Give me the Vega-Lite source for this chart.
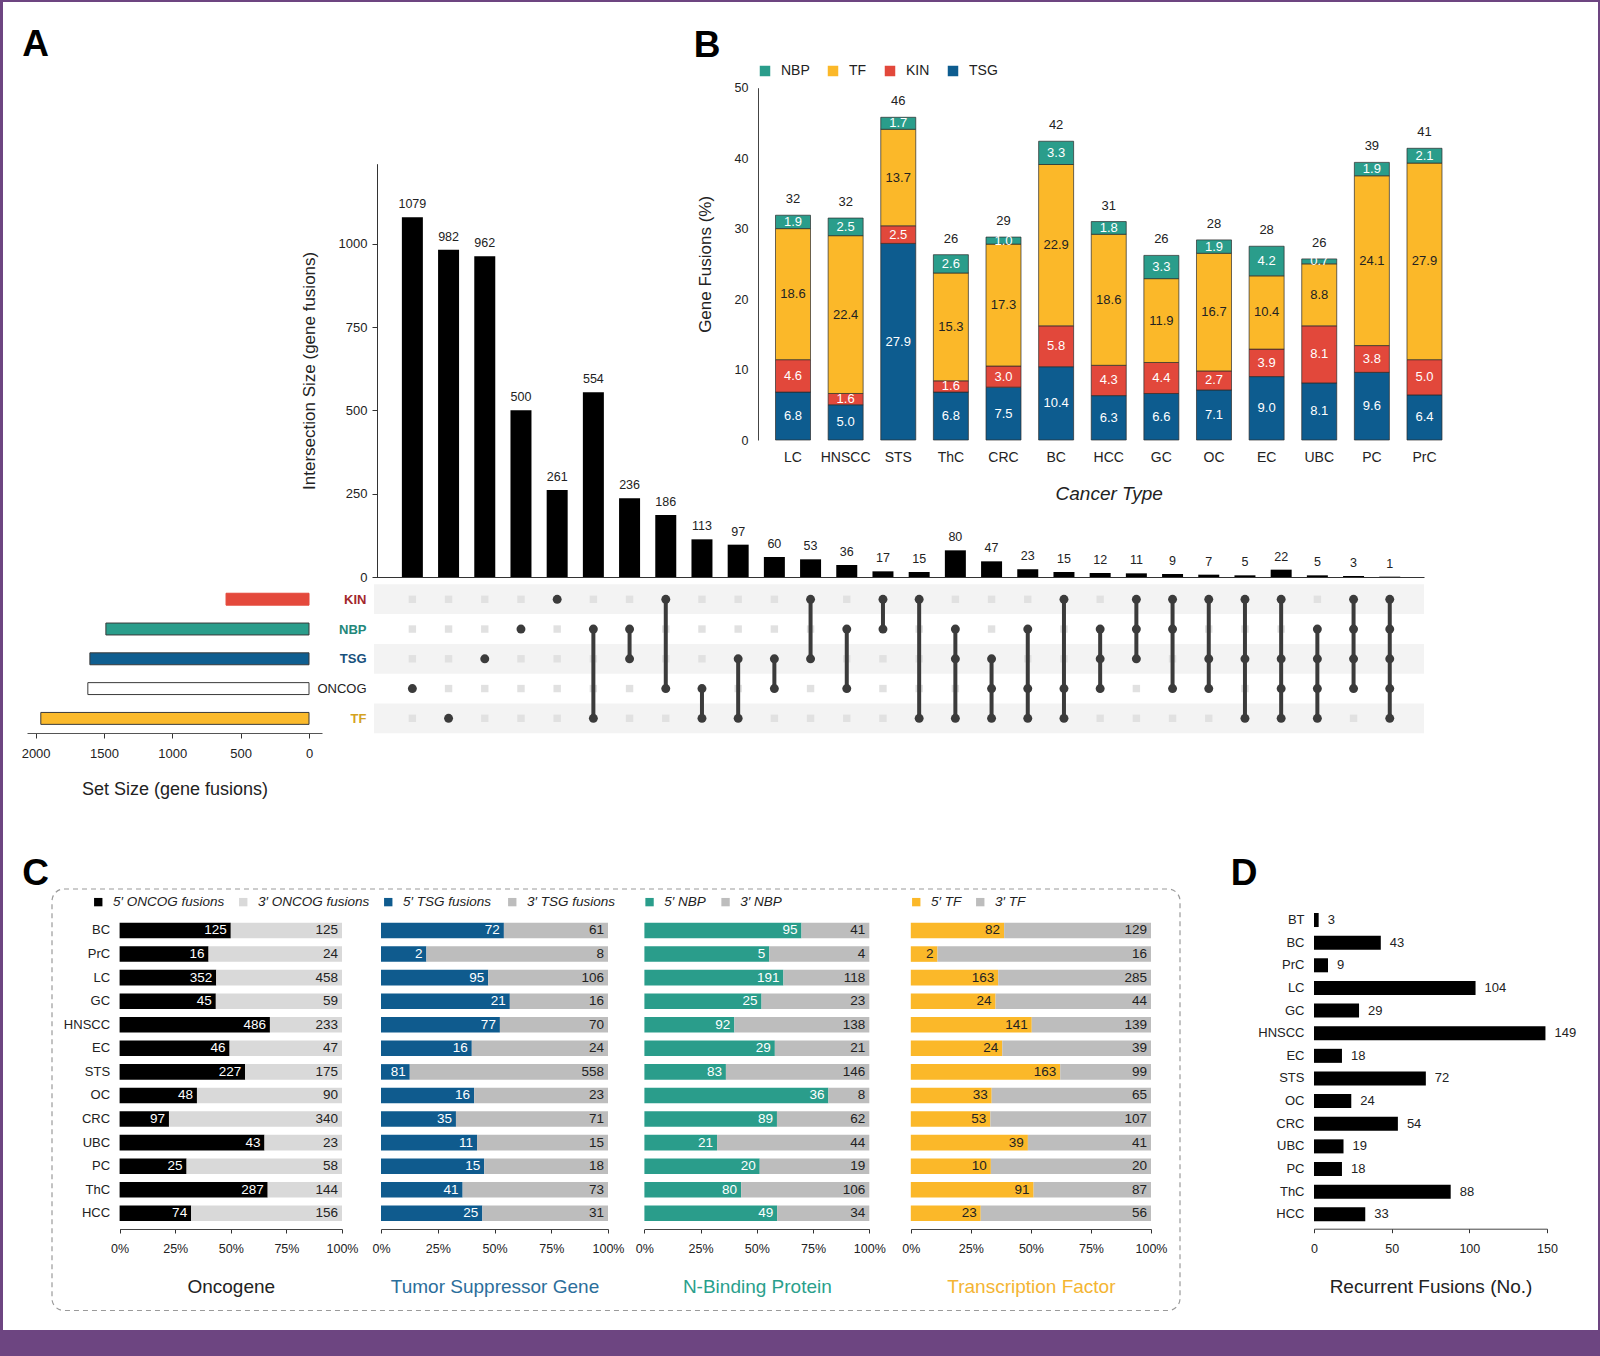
{
  "$schema": "https://vega.github.io/schema/vega-lite/v6.json",
  "width": 1595,
  "height": 1328,
  "autosize": {"type": "none"},
  "padding": {"left": 3, "top": 2, "right": 2, "bottom": 26},
  "background": "#6d4581",
  "config": {
    "view": {"stroke": null, "fill": "#ffffff"},
    "font": "Liberation Sans",
    "axis": {"grid": false, "labelFont": "Liberation Sans", "titleFont": "Liberation Sans", "labelColor": "#222222", "titleColor": "#222222", "domainColor": "#333333", "tickColor": "#333333", "titleFontWeight": "normal", "labelFontSize": 12, "labelFlush": false, "labelOverlap": false},
    "legend": {"labelFont": "Liberation Sans", "labelColor": "#222222"}
  },
  "datasets": {
    "inter": [
      {"id": 1, "size": 1079, "KIN": 0, "NBP": 0, "TSG": 0, "ONCOG": 1, "TF": 0},
      {"id": 2, "size": 982, "KIN": 0, "NBP": 0, "TSG": 0, "ONCOG": 0, "TF": 1},
      {"id": 3, "size": 962, "KIN": 0, "NBP": 0, "TSG": 1, "ONCOG": 0, "TF": 0},
      {"id": 4, "size": 500, "KIN": 0, "NBP": 1, "TSG": 0, "ONCOG": 0, "TF": 0},
      {"id": 5, "size": 261, "KIN": 1, "NBP": 0, "TSG": 0, "ONCOG": 0, "TF": 0},
      {"id": 6, "size": 554, "KIN": 0, "NBP": 1, "TSG": 0, "ONCOG": 0, "TF": 1, "top": "NBP", "bot": "TF"},
      {"id": 7, "size": 236, "KIN": 0, "NBP": 1, "TSG": 1, "ONCOG": 0, "TF": 0, "top": "NBP", "bot": "TSG"},
      {"id": 8, "size": 186, "KIN": 1, "NBP": 0, "TSG": 0, "ONCOG": 1, "TF": 0, "top": "KIN", "bot": "ONCOG"},
      {"id": 9, "size": 113, "KIN": 0, "NBP": 0, "TSG": 0, "ONCOG": 1, "TF": 1, "top": "ONCOG", "bot": "TF"},
      {"id": 10, "size": 97, "KIN": 0, "NBP": 0, "TSG": 1, "ONCOG": 0, "TF": 1, "top": "TSG", "bot": "TF"},
      {"id": 11, "size": 60, "KIN": 0, "NBP": 0, "TSG": 1, "ONCOG": 1, "TF": 0, "top": "TSG", "bot": "ONCOG"},
      {"id": 12, "size": 53, "KIN": 1, "NBP": 0, "TSG": 1, "ONCOG": 0, "TF": 0, "top": "KIN", "bot": "TSG"},
      {"id": 13, "size": 36, "KIN": 0, "NBP": 1, "TSG": 0, "ONCOG": 1, "TF": 0, "top": "NBP", "bot": "ONCOG"},
      {"id": 14, "size": 17, "KIN": 1, "NBP": 1, "TSG": 0, "ONCOG": 0, "TF": 0, "top": "KIN", "bot": "NBP"},
      {"id": 15, "size": 15, "KIN": 1, "NBP": 0, "TSG": 0, "ONCOG": 0, "TF": 1, "top": "KIN", "bot": "TF"},
      {"id": 16, "size": 80, "KIN": 0, "NBP": 1, "TSG": 1, "ONCOG": 0, "TF": 1, "top": "NBP", "bot": "TF"},
      {"id": 17, "size": 47, "KIN": 0, "NBP": 0, "TSG": 1, "ONCOG": 1, "TF": 1, "top": "TSG", "bot": "TF"},
      {"id": 18, "size": 23, "KIN": 0, "NBP": 1, "TSG": 0, "ONCOG": 1, "TF": 1, "top": "NBP", "bot": "TF"},
      {"id": 19, "size": 15, "KIN": 1, "NBP": 0, "TSG": 0, "ONCOG": 1, "TF": 1, "top": "KIN", "bot": "TF"},
      {"id": 20, "size": 12, "KIN": 0, "NBP": 1, "TSG": 1, "ONCOG": 1, "TF": 0, "top": "NBP", "bot": "ONCOG"},
      {"id": 21, "size": 11, "KIN": 1, "NBP": 1, "TSG": 1, "ONCOG": 0, "TF": 0, "top": "KIN", "bot": "TSG"},
      {"id": 22, "size": 9, "KIN": 1, "NBP": 1, "TSG": 0, "ONCOG": 1, "TF": 0, "top": "KIN", "bot": "ONCOG"},
      {"id": 23, "size": 7, "KIN": 1, "NBP": 0, "TSG": 1, "ONCOG": 1, "TF": 0, "top": "KIN", "bot": "ONCOG"},
      {"id": 24, "size": 5, "KIN": 1, "NBP": 0, "TSG": 1, "ONCOG": 0, "TF": 1, "top": "KIN", "bot": "TF"},
      {"id": 25, "size": 22, "KIN": 1, "NBP": 0, "TSG": 1, "ONCOG": 1, "TF": 1, "top": "KIN", "bot": "TF"},
      {"id": 26, "size": 5, "KIN": 0, "NBP": 1, "TSG": 1, "ONCOG": 1, "TF": 1, "top": "NBP", "bot": "TF"},
      {"id": 27, "size": 3, "KIN": 1, "NBP": 1, "TSG": 1, "ONCOG": 1, "TF": 0, "top": "KIN", "bot": "ONCOG"},
      {"id": 28, "size": 1, "KIN": 1, "NBP": 1, "TSG": 1, "ONCOG": 1, "TF": 1, "top": "KIN", "bot": "TF"}
    ],
    "sets": [
      {"set": "KIN", "size": 607},
      {"set": "NBP", "size": 1486},
      {"set": "TSG", "size": 1603},
      {"set": "ONCOG", "size": 1618},
      {"set": "TF", "size": 1962}
    ],
    "bdata": [
      {"c": "LC", "TSG": 6.8, "KIN": 4.6, "TF": 18.6, "NBP": 1.9, "total": 32},
      {"c": "HNSCC", "TSG": 5.0, "KIN": 1.6, "TF": 22.4, "NBP": 2.5, "total": 32},
      {"c": "STS", "TSG": 27.9, "KIN": 2.5, "TF": 13.7, "NBP": 1.7, "total": 46},
      {"c": "ThC", "TSG": 6.8, "KIN": 1.6, "TF": 15.3, "NBP": 2.6, "total": 26},
      {"c": "CRC", "TSG": 7.5, "KIN": 3.0, "TF": 17.3, "NBP": 1.0, "total": 29},
      {"c": "BC", "TSG": 10.4, "KIN": 5.8, "TF": 22.9, "NBP": 3.3, "total": 42},
      {"c": "HCC", "TSG": 6.3, "KIN": 4.3, "TF": 18.6, "NBP": 1.8, "total": 31},
      {"c": "GC", "TSG": 6.6, "KIN": 4.4, "TF": 11.9, "NBP": 3.3, "total": 26},
      {"c": "OC", "TSG": 7.1, "KIN": 2.7, "TF": 16.7, "NBP": 1.9, "total": 28},
      {"c": "EC", "TSG": 9.0, "KIN": 3.9, "TF": 10.4, "NBP": 4.2, "total": 28},
      {"c": "UBC", "TSG": 8.1, "KIN": 8.1, "TF": 8.8, "NBP": 0.7, "total": 26},
      {"c": "PC", "TSG": 9.6, "KIN": 3.8, "TF": 24.1, "NBP": 1.9, "total": 39},
      {"c": "PrC", "TSG": 6.4, "KIN": 5.0, "TF": 27.9, "NBP": 2.1, "total": 41}
    ],
    "btypes": [
      {"type": "TSG", "rank": 1},
      {"type": "KIN", "rank": 2},
      {"type": "TF", "rank": 3},
      {"type": "NBP", "rank": 4}
    ],
    "cdata": [
      {"c": "BC", "g": "ONCOG", "five": 125, "three": 125},
      {"c": "PrC", "g": "ONCOG", "five": 16, "three": 24},
      {"c": "LC", "g": "ONCOG", "five": 352, "three": 458},
      {"c": "GC", "g": "ONCOG", "five": 45, "three": 59},
      {"c": "HNSCC", "g": "ONCOG", "five": 486, "three": 233},
      {"c": "EC", "g": "ONCOG", "five": 46, "three": 47},
      {"c": "STS", "g": "ONCOG", "five": 227, "three": 175},
      {"c": "OC", "g": "ONCOG", "five": 48, "three": 90},
      {"c": "CRC", "g": "ONCOG", "five": 97, "three": 340},
      {"c": "UBC", "g": "ONCOG", "five": 43, "three": 23},
      {"c": "PC", "g": "ONCOG", "five": 25, "three": 58},
      {"c": "ThC", "g": "ONCOG", "five": 287, "three": 144},
      {"c": "HCC", "g": "ONCOG", "five": 74, "three": 156},
      {"c": "BC", "g": "TSG", "five": 72, "three": 61},
      {"c": "PrC", "g": "TSG", "five": 2, "three": 8},
      {"c": "LC", "g": "TSG", "five": 95, "three": 106},
      {"c": "GC", "g": "TSG", "five": 21, "three": 16},
      {"c": "HNSCC", "g": "TSG", "five": 77, "three": 70},
      {"c": "EC", "g": "TSG", "five": 16, "three": 24},
      {"c": "STS", "g": "TSG", "five": 81, "three": 558},
      {"c": "OC", "g": "TSG", "five": 16, "three": 23},
      {"c": "CRC", "g": "TSG", "five": 35, "three": 71},
      {"c": "UBC", "g": "TSG", "five": 11, "three": 15},
      {"c": "PC", "g": "TSG", "five": 15, "three": 18},
      {"c": "ThC", "g": "TSG", "five": 41, "three": 73},
      {"c": "HCC", "g": "TSG", "five": 25, "three": 31},
      {"c": "BC", "g": "NBP", "five": 95, "three": 41},
      {"c": "PrC", "g": "NBP", "five": 5, "three": 4},
      {"c": "LC", "g": "NBP", "five": 191, "three": 118},
      {"c": "GC", "g": "NBP", "five": 25, "three": 23},
      {"c": "HNSCC", "g": "NBP", "five": 92, "three": 138},
      {"c": "EC", "g": "NBP", "five": 29, "three": 21},
      {"c": "STS", "g": "NBP", "five": 83, "three": 146},
      {"c": "OC", "g": "NBP", "five": 36, "three": 8},
      {"c": "CRC", "g": "NBP", "five": 89, "three": 62},
      {"c": "UBC", "g": "NBP", "five": 21, "three": 44},
      {"c": "PC", "g": "NBP", "five": 20, "three": 19},
      {"c": "ThC", "g": "NBP", "five": 80, "three": 106},
      {"c": "HCC", "g": "NBP", "five": 49, "three": 34},
      {"c": "BC", "g": "TF", "five": 82, "three": 129},
      {"c": "PrC", "g": "TF", "five": 2, "three": 16},
      {"c": "LC", "g": "TF", "five": 163, "three": 285},
      {"c": "GC", "g": "TF", "five": 24, "three": 44},
      {"c": "HNSCC", "g": "TF", "five": 141, "three": 139},
      {"c": "EC", "g": "TF", "five": 24, "three": 39},
      {"c": "STS", "g": "TF", "five": 163, "three": 99},
      {"c": "OC", "g": "TF", "five": 33, "three": 65},
      {"c": "CRC", "g": "TF", "five": 53, "three": 107},
      {"c": "UBC", "g": "TF", "five": 39, "three": 41},
      {"c": "PC", "g": "TF", "five": 10, "three": 20},
      {"c": "ThC", "g": "TF", "five": 91, "three": 87},
      {"c": "HCC", "g": "TF", "five": 23, "three": 56}
    ],
    "ddata": [
      {"c": "BT", "n": 3},
      {"c": "BC", "n": 43},
      {"c": "PrC", "n": 9},
      {"c": "LC", "n": 104},
      {"c": "GC", "n": 29},
      {"c": "HNSCC", "n": 149},
      {"c": "EC", "n": 18},
      {"c": "STS", "n": 72},
      {"c": "OC", "n": 24},
      {"c": "CRC", "n": 54},
      {"c": "UBC", "n": 19},
      {"c": "PC", "n": 18},
      {"c": "ThC", "n": 88},
      {"c": "HCC", "n": 33}
    ],
    "frame": [{"panel": "C"}]
  },
  "resolve": {
    "scale": {"x": "independent", "y": "independent", "color": "independent"},
    "axis": {"x": "independent", "y": "independent"},
    "legend": {"color": "independent"}
  },
  "layer": [
    {
      "data": {"name": "sets"},
      "transform": [{"filter": {"field": "set", "oneOf": ["KIN", "TSG", "TF"]}}],
      "mark": {"type": "rect", "color": "#f3f3f3"},
      "encoding": {
        "x": {"datum": 0, "type": "quantitative",
          "scale": {"domain": [0, 1], "range": [371, 1421], "nice": false, "zero": false},
          "axis": {"orient": "top", "offset": 0, "domain": false, "ticks": false, "labels": false, "title": "A", "titleX": 32, "titleY": 53, "titleAlign": "center", "titleBaseline": "alphabetic", "titleAngle": 0, "titleFontSize": 37, "titleFontWeight": "bold", "titleColor": "#000000"}},
        "x2": {"datum": 1},
        "y": {"field": "set", "type": "nominal",
          "scale": {"domain": ["KIN", "NBP", "TSG", "ONCOG", "TF"], "range": [582.3, 731.3], "paddingInner": 0, "paddingOuter": 0},
          "axis": {"orient": "left", "offset": 0, "domain": false, "ticks": false, "labels": false, "title": "B", "titleX": 703.5, "titleY": 54, "titleAlign": "center", "titleBaseline": "alphabetic", "titleAngle": 0, "titleFontSize": 37, "titleFontWeight": "bold", "titleColor": "#000000"}}
      }
    },
    {
      "data": {"name": "inter"},
      "encoding": {
        "x": {"field": "id", "type": "ordinal",
          "scale": {"range": [371, 1421], "paddingInner": 0.42, "paddingOuter": 0.713, "align": 0.54, "round": false},
          "axis": null}
      },
      "layer": [
        {
          "transform": [{"fold": ["KIN", "NBP", "TSG", "ONCOG", "TF"], "as": ["set", "member"]}, {"filter": "datum.member == 0"}],
          "mark": {"type": "point", "shape": "square", "filled": true, "size": 55, "color": "#e1e1e1", "opacity": 1},
          "encoding": {
            "y": {"field": "set", "type": "nominal",
              "scale": {"type": "point", "domain": ["KIN", "NBP", "TSG", "ONCOG", "TF"], "range": [597.3, 716.3], "padding": 0},
              "axis": {"orient": "left", "offset": -371, "domain": false, "ticks": false, "tickSize": 0, "labelPadding": 8, "labelFontSize": 13, "title": null,
                "labelFontWeight": {"condition": {"test": "datum.value == 'ONCOG'", "value": "normal"}, "value": "bold"},
                "labelColor": {"condition": [{"test": "datum.value == 'KIN'", "value": "#a3282c"}, {"test": "datum.value == 'NBP'", "value": "#23877a"}, {"test": "datum.value == 'TSG'", "value": "#17507c"}, {"test": "datum.value == 'TF'", "value": "#d4a21f"}], "value": "#222222"}}}
          }
        },
        {
          "transform": [{"filter": "datum.bot != null"}],
          "mark": {"type": "rule", "strokeWidth": 4, "color": "#3b3b3b"},
          "encoding": {
            "y": {"field": "top", "type": "nominal"},
            "y2": {"field": "bot"}
          }
        },
        {
          "transform": [{"fold": ["KIN", "NBP", "TSG", "ONCOG", "TF"], "as": ["set", "member"]}, {"filter": "datum.member == 1"}],
          "mark": {"type": "point", "shape": "circle", "filled": true, "size": 80, "color": "#3b3b3b", "opacity": 1},
          "encoding": {
            "y": {"field": "set", "type": "nominal"}
          }
        }
      ]
    },
    {
      "data": {"name": "inter"},
      "encoding": {
        "x": {"field": "id", "type": "ordinal",
          "scale": {"range": [371, 1421], "paddingInner": 0.42, "paddingOuter": 0.713, "align": 0.54, "round": false},
          "axis": {"orient": "bottom", "offset": -753, "labels": false, "ticks": false, "tickSize": 0, "title": null, "domainColor": "#333333", "domainWidth": 1.2}},
        "y": {"field": "size", "type": "quantitative",
          "scale": {"domain": [0, 1240], "range": [575, 161.7], "nice": false},
          "axis": {"orient": "left", "offset": -374, "values": [0, 250, 500, 750, 1000], "format": "d", "tickSize": 5, "labelPadding": 5, "labelFontSize": 13, "title": "Intersection Size (gene fusions)", "titleFontSize": 17, "titlePadding": 20}}
      },
      "layer": [
        {"mark": {"type": "bar", "color": "#000000"}},
        {"mark": {"type": "text", "dy": -9, "baseline": "alphabetic", "fontSize": 12.5, "color": "#222222"},
         "encoding": {"text": {"field": "size", "type": "quantitative", "format": "d"}}}
      ]
    },
    {
      "data": {"name": "sets"},
      "mark": {"type": "bar", "strokeWidth": 1},
      "encoding": {
        "x": {"field": "size", "type": "quantitative",
          "scale": {"domain": [-95, 2063], "range": [319, 24], "nice": false, "zero": false},
          "axis": {"orient": "bottom", "offset": -597, "values": [0, 500, 1000, 1500, 2000], "format": "d", "tickSize": 5, "labelPadding": 9, "labelFontSize": 13, "title": "Set Size (gene fusions)", "titleFontSize": 18, "titlePadding": 20, "domainColor": "#555555"}},
        "x2": {"datum": 0},
        "y": {"field": "set", "type": "nominal",
          "scale": {"domain": ["KIN", "NBP", "TSG", "ONCOG", "TF"], "range": [582.3, 731.3], "paddingInner": 0.6, "paddingOuter": 0.3},
          "axis": null},
        "color": {"field": "set", "type": "nominal",
          "scale": {"domain": ["KIN", "NBP", "TSG", "ONCOG", "TF"], "range": ["#e4493c", "#2a9d8b", "#0f5e90", "#ffffff", "#fbba2c"]},
          "legend": null},
        "stroke": {"condition": {"test": "datum.set == 'KIN'", "value": "#e4493c"}, "value": "#3a3a3a"}
      }
    },
    {
      "data": {"name": "bdata"},
      "transform": [
        {"fold": ["TSG", "KIN", "TF", "NBP"], "as": ["type", "v"]},
        {"lookup": "type", "from": {"data": {"name": "btypes"}, "key": "type", "fields": ["rank"]}},
        {"stack": "v", "groupby": ["c"], "sort": [{"field": "rank", "order": "ascending"}], "as": ["v0", "v1"]}
      ],
      "encoding": {
        "x": {"field": "c", "type": "nominal",
          "scale": {"domain": ["LC", "HNSCC", "STS", "ThC", "CRC", "BC", "HCC", "GC", "OC", "EC", "UBC", "PC", "PrC"], "range": [763.7, 1447.8], "paddingInner": 0.335, "paddingOuter": 0.1675, "round": false},
          "axis": {"orient": "bottom", "offset": -890, "domain": false, "ticks": false, "tickSize": 0, "labelPadding": 10, "labelAngle": 0, "labelFontSize": 14, "title": "Cancer Type", "titleFontSize": 19, "titleFontStyle": "italic", "titlePadding": 20}}
      },
      "layer": [
        {
          "mark": {"type": "bar", "stroke": "#2b2b2b", "strokeWidth": 0.7},
          "encoding": {
            "y": {"field": "v0", "type": "quantitative",
              "scale": {"domain": [0, 50], "range": [438, 85.7], "nice": false, "zero": false},
              "axis": {"orient": "left", "offset": -755, "values": [0, 10, 20, 30, 40, 50], "ticks": false, "tickSize": 0, "labelPadding": 10, "labelFontSize": 12.5, "title": "Gene Fusions (%)", "titleFontSize": 17, "titlePadding": 20, "domainColor": "#444444"}},
            "y2": {"field": "v1"},
            "color": {"field": "type", "type": "nominal",
              "scale": {"domain": ["NBP", "TF", "KIN", "TSG"], "range": ["#2a9d8b", "#fbb829", "#e2483b", "#0d5c8f"]},
              "legend": {"orient": "none", "legendX": 755, "legendY": 62, "direction": "horizontal", "title": null, "symbolType": "square", "symbolSize": 110, "symbolStrokeWidth": 0, "labelFontSize": 14, "labelOffset": 9, "columnPadding": 16, "padding": 0}}
          }
        },
        {
          "transform": [
            {"fold": ["v0", "v1"], "as": ["edge", "pos"]},
            {"aggregate": [{"op": "mean", "field": "pos", "as": "mid"}], "groupby": ["c", "type", "v"]}
          ],
          "mark": {"type": "text", "fontSize": 13, "baseline": "middle"},
          "encoding": {
            "y": {"field": "mid", "type": "quantitative"},
            "text": {"field": "v", "type": "quantitative", "format": ".1f"},
            "color": {"condition": {"test": "datum.type == 'TF'", "value": "#222222"}, "value": "#ffffff"}
          }
        },
        {
          "transform": [{"filter": "datum.type == 'NBP'"}],
          "mark": {"type": "text", "fontSize": 13, "dy": -12, "baseline": "alphabetic", "color": "#222222"},
          "encoding": {
            "y": {"field": "v1", "type": "quantitative"},
            "text": {"field": "total", "type": "quantitative"}
          }
        }
      ]
    },
    {
      "data": {"name": "frame"},
      "mark": {"type": "rect", "filled": false, "color": "#9a9a9a", "strokeDash": [5, 4], "strokeWidth": 1.2, "cornerRadius": 12},
      "encoding": {
        "x": {"datum": 0, "type": "quantitative",
          "scale": {"domain": [0, 1], "range": [49, 1177], "nice": false, "zero": false},
          "axis": {"orient": "top", "offset": 0, "domain": false, "ticks": false, "labels": false, "title": "C", "titleX": 32, "titleY": 882, "titleAlign": "center", "titleBaseline": "alphabetic", "titleAngle": 0, "titleFontSize": 37, "titleFontWeight": "bold", "titleColor": "#000000"}},
        "x2": {"datum": 1},
        "y": {"datum": 0, "type": "quantitative",
          "scale": {"domain": [0, 1], "range": [887, 1308.5], "nice": false, "zero": false},
          "axis": {"orient": "left", "offset": 0, "domain": false, "ticks": false, "labels": false, "title": "D", "titleX": 1240.5, "titleY": 882, "titleAlign": "center", "titleBaseline": "alphabetic", "titleAngle": 0, "titleFontSize": 37, "titleFontWeight": "bold", "titleColor": "#000000"}},
        "y2": {"datum": 1}
      }
    },
    {
      "data": {"name": "cdata"},
      "transform": [{"filter": "datum.g == 'ONCOG'"}, {"fold": ["five", "three"], "as": ["key", "n"]}],
      "encoding": {
        "y": {"field": "c", "type": "nominal",
          "scale": {"domain": ["BC", "PrC", "LC", "GC", "HNSCC", "EC", "STS", "OC", "CRC", "UBC", "PC", "ThC", "HCC"], "range": [916.7, 1223.1], "paddingInner": 0.34, "paddingOuter": 0.17, "round": false},
          "axis": {"orient": "left", "offset": -116.6, "domain": false, "ticks": false, "tickSize": 0, "labelPadding": 10, "labelFontSize": 13, "title": null}},
        "x": {"field": "n", "type": "quantitative", "stack": "normalize",
          "scale": {"domain": [0, 1], "range": [116.6, 339], "nice": false, "zero": false},
          "axis": {"orient": "bottom", "offset": -101, "values": [0, 0.25, 0.5, 0.75, 1], "format": ".0%", "tickSize": 4, "labelPadding": 9, "labelFontSize": 12.5, "domainColor": "#444444", "title": "Oncogene", "titleFontSize": 19, "titleColor": "#222222", "titlePadding": 23}},
        "order": {"field": "key", "sort": "ascending"}
      },
      "layer": [
        {"mark": {"type": "bar"},
         "encoding": {"color": {"field": "key", "type": "nominal",
           "scale": {"domain": ["five", "three"], "range": ["#000000", "#d9d9d9"]},
           "legend": {"orient": "none", "legendX": 88.5, "legendY": 893, "direction": "horizontal", "title": null, "symbolType": "square", "symbolSize": 70, "symbolStrokeWidth": 0, "labelFontSize": 13.5, "labelFontStyle": "italic", "labelOffset": 8, "columnPadding": 12, "padding": 0, "labelExpr": "datum.label == 'five' ? '5′ ONCOG fusions' : '3′ ONCOG fusions'"}}}},
        {"mark": {"type": "text", "align": "right", "dx": -4, "fontSize": 13.5, "baseline": "middle"},
         "encoding": {"detail": {"field": "key"}, "text": {"field": "n", "type": "quantitative"},
           "color": {"condition": {"test": "datum.key == 'five'", "value": "#ffffff"}, "value": "#222222"}}}
      ]
    },
    {
      "data": {"name": "cdata"},
      "transform": [{"filter": "datum.g == 'TSG'"}, {"fold": ["five", "three"], "as": ["key", "n"]}],
      "encoding": {
        "y": {"field": "c", "type": "nominal",
          "scale": {"domain": ["BC", "PrC", "LC", "GC", "HNSCC", "EC", "STS", "OC", "CRC", "UBC", "PC", "ThC", "HCC"], "range": [916.7, 1223.1], "paddingInner": 0.34, "paddingOuter": 0.17, "round": false},
          "axis": null},
        "x": {"field": "n", "type": "quantitative", "stack": "normalize",
          "scale": {"domain": [0, 1], "range": [378, 605], "nice": false, "zero": false},
          "axis": {"orient": "bottom", "offset": -101, "values": [0, 0.25, 0.5, 0.75, 1], "format": ".0%", "tickSize": 4, "labelPadding": 9, "labelFontSize": 12.5, "domainColor": "#444444", "title": "Tumor Suppressor Gene", "titleFontSize": 19, "titleColor": "#2b6e9b", "titlePadding": 23}},
        "order": {"field": "key", "sort": "ascending"}
      },
      "layer": [
        {"mark": {"type": "bar"},
         "encoding": {"color": {"field": "key", "type": "nominal",
           "scale": {"domain": ["five", "three"], "range": ["#0f5b8e", "#bdbdbd"]},
           "legend": {"orient": "none", "legendX": 378.5, "legendY": 893, "direction": "horizontal", "title": null, "symbolType": "square", "symbolSize": 70, "symbolStrokeWidth": 0, "labelFontSize": 13.5, "labelFontStyle": "italic", "labelOffset": 8, "columnPadding": 14, "padding": 0, "labelExpr": "datum.label == 'five' ? '5′ TSG fusions' : '3′ TSG fusions'"}}}},
        {"mark": {"type": "text", "align": "right", "dx": -4, "fontSize": 13.5, "baseline": "middle"},
         "encoding": {"detail": {"field": "key"}, "text": {"field": "n", "type": "quantitative"},
           "color": {"condition": {"test": "datum.key == 'five'", "value": "#ffffff"}, "value": "#222222"}}}
      ]
    },
    {
      "data": {"name": "cdata"},
      "transform": [{"filter": "datum.g == 'NBP'"}, {"fold": ["five", "three"], "as": ["key", "n"]}],
      "encoding": {
        "y": {"field": "c", "type": "nominal",
          "scale": {"domain": ["BC", "PrC", "LC", "GC", "HNSCC", "EC", "STS", "OC", "CRC", "UBC", "PC", "ThC", "HCC"], "range": [916.7, 1223.1], "paddingInner": 0.34, "paddingOuter": 0.17, "round": false},
          "axis": null},
        "x": {"field": "n", "type": "quantitative", "stack": "normalize",
          "scale": {"domain": [0, 1], "range": [641.4, 866.3], "nice": false, "zero": false},
          "axis": {"orient": "bottom", "offset": -101, "values": [0, 0.25, 0.5, 0.75, 1], "format": ".0%", "tickSize": 4, "labelPadding": 9, "labelFontSize": 12.5, "domainColor": "#444444", "title": "N-Binding Protein", "titleFontSize": 19, "titleColor": "#2a9f8c", "titlePadding": 23}},
        "order": {"field": "key", "sort": "ascending"}
      },
      "layer": [
        {"mark": {"type": "bar"},
         "encoding": {"color": {"field": "key", "type": "nominal",
           "scale": {"domain": ["five", "three"], "range": ["#2a9d8b", "#bdbdbd"]},
           "legend": {"orient": "none", "legendX": 639.8, "legendY": 893, "direction": "horizontal", "title": null, "symbolType": "square", "symbolSize": 70, "symbolStrokeWidth": 0, "labelFontSize": 13.5, "labelFontStyle": "italic", "labelOffset": 8, "columnPadding": 12, "padding": 0, "labelExpr": "datum.label == 'five' ? '5′ NBP' : '3′ NBP'"}}}},
        {"mark": {"type": "text", "align": "right", "dx": -4, "fontSize": 13.5, "baseline": "middle"},
         "encoding": {"detail": {"field": "key"}, "text": {"field": "n", "type": "quantitative"},
           "color": {"condition": {"test": "datum.key == 'five'", "value": "#ffffff"}, "value": "#222222"}}}
      ]
    },
    {
      "data": {"name": "cdata"},
      "transform": [{"filter": "datum.g == 'TF'"}, {"fold": ["five", "three"], "as": ["key", "n"]}],
      "encoding": {
        "y": {"field": "c", "type": "nominal",
          "scale": {"domain": ["BC", "PrC", "LC", "GC", "HNSCC", "EC", "STS", "OC", "CRC", "UBC", "PC", "ThC", "HCC"], "range": [916.7, 1223.1], "paddingInner": 0.34, "paddingOuter": 0.17, "round": false},
          "axis": null},
        "x": {"field": "n", "type": "quantitative", "stack": "normalize",
          "scale": {"domain": [0, 1], "range": [907.8, 1148], "nice": false, "zero": false},
          "axis": {"orient": "bottom", "offset": -101, "values": [0, 0.25, 0.5, 0.75, 1], "format": ".0%", "tickSize": 4, "labelPadding": 9, "labelFontSize": 12.5, "domainColor": "#444444", "title": "Transcription Factor", "titleFontSize": 19, "titleColor": "#f4b533", "titlePadding": 23}},
        "order": {"field": "key", "sort": "ascending"}
      },
      "layer": [
        {"mark": {"type": "bar"},
         "encoding": {"color": {"field": "key", "type": "nominal",
           "scale": {"domain": ["five", "three"], "range": ["#fbb829", "#bdbdbd"]},
           "legend": {"orient": "none", "legendX": 906.5, "legendY": 893, "direction": "horizontal", "title": null, "symbolType": "square", "symbolSize": 70, "symbolStrokeWidth": 0, "labelFontSize": 13.5, "labelFontStyle": "italic", "labelOffset": 8, "columnPadding": 12, "padding": 0, "labelExpr": "datum.label == 'five' ? '5′ TF' : '3′ TF'"}}}},
        {"mark": {"type": "text", "align": "right", "dx": -4, "fontSize": 13.5, "baseline": "middle", "color": "#222222"},
         "encoding": {"detail": {"field": "key"}, "text": {"field": "n", "type": "quantitative"}}}
      ]
    },
    {
      "data": {"name": "ddata"},
      "encoding": {
        "y": {"field": "c", "type": "nominal",
          "scale": {"domain": ["BT", "BC", "PrC", "LC", "GC", "HNSCC", "EC", "STS", "OC", "CRC", "UBC", "PC", "ThC", "HCC"], "range": [906.7, 1223.6], "paddingInner": 0.38, "paddingOuter": 0.19, "round": false},
          "axis": {"orient": "left", "offset": -1311, "domain": false, "ticks": false, "tickSize": 0, "labelPadding": 10, "labelFontSize": 13, "title": null}},
        "x": {"field": "n", "type": "quantitative",
          "scale": {"domain": [0, 150], "range": [1311, 1544], "nice": false},
          "axis": {"orient": "bottom", "offset": -101.3, "values": [0, 50, 100, 150], "tickSize": 4, "labelPadding": 10, "labelFontSize": 12.5, "domainColor": "#444444", "title": "Recurrent Fusions (No.)", "titleFontSize": 19, "titlePadding": 22}}
      },
      "layer": [
        {"mark": {"type": "bar", "color": "#000000"}},
        {"mark": {"type": "text", "align": "left", "dx": 9, "fontSize": 13, "baseline": "middle", "color": "#222222"},
         "encoding": {"text": {"field": "n", "type": "quantitative"}}}
      ]
    }
  ]
}
